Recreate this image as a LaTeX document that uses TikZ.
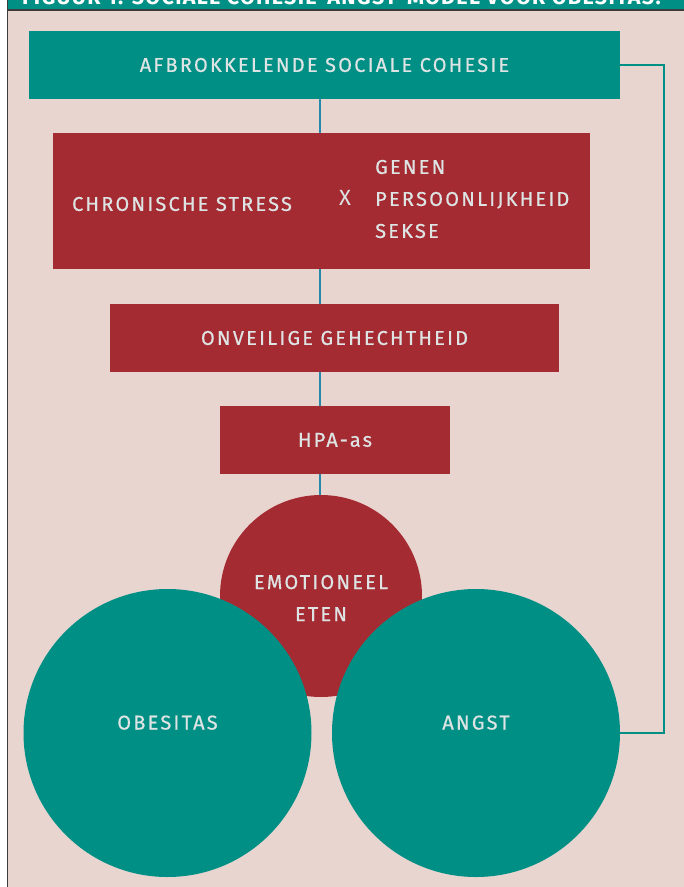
\documentclass[tikz,border=0pt]{standalone}
\usepackage{fontspec}
\setmainfont{Fira Sans}
\newfontfamily\capsfont[LetterSpace=11, FakeBold=0.6]{Fira Sans}
\newfontfamily\titlefont[LetterSpace=6]{Fira Sans}
\usetikzlibrary{positioning}
\definecolor{cohesiegreen}{RGB}{0,143,133}
\definecolor{stressred}{RGB}{164,43,50}
\definecolor{panelpink}{RGB}{233,213,208}
\definecolor{lettergrey}{RGB}{222,228,228}
\definecolor{spineblue}{RGB}{40,138,170}
\definecolor{framegrey}{RGB}{60,60,60}

\tikzset{
  greenbox/.style={fill=cohesiegreen, text=lettergrey, inner sep=0pt, rectangle},
  redbox/.style={fill=stressred, text=lettergrey, inner sep=0pt, rectangle},
  bubble/.style={circle, inner sep=0pt, text=lettergrey, align=center},
  spine/.style={draw=spineblue, line width=1.2pt},
  feedback/.style={draw=cohesiegreen, line width=2pt}
}

\begin{document}
\begin{tikzpicture}[x=1pt, y=-1pt,
  every node/.style={font=\capsfont\fontsize{20}{32}\selectfont}]
\useasboundingbox (0,0) rectangle (684,887);
%panel
\fill[white] (0,0) rectangle (684,887);
\fill[panelpink] (8,10) rectangle (684,887);
\fill[cohesiegreen] (7,0) rectangle (684,9.5);
\draw[framegrey, line width=1.5pt] (7,10) -- (684,10);
\draw[framegrey, line width=1.2pt] (7.5,0) -- (7.5,887);
\begin{scope}
  \clip (7,0) rectangle (684,9.5);
  \node[anchor=base west, text=white, inner sep=0pt,
    font=\titlefont\bfseries\fontsize{21.5}{24}\selectfont] (titel) at (22,4.5)
    {FIGUUR 1: SOCIALE COHESIE-ANGST-MODEL VOOR OBESITAS.};
\end{scope}

\coordinate (spine) at (320,0);
\coordinate (bend) at (664,65);

%connectors first, boxes on top
\node[greenbox, minimum width=591pt, minimum height=68pt] (cohesie) at (324.5,65)
  {AFBROKKELENDE SOCIALE COHESIE};
\node[redbox, minimum width=537pt, minimum height=136pt] (stress) at (321.5,201) {};
\node[redbox, minimum width=449pt, minimum height=68pt] (gehecht) at (334.5,338)
  {ONVEILIGE GEHECHTHEID};
\node[redbox, minimum width=230pt, minimum height=68pt] (hpa) at (335,440) {HPA-as};
\node[bubble, fill=stressred, minimum size=202pt] (eten) at (321,596) {};

\node[text=lettergrey, anchor=center] (chronisch) at (182,204) {CHRONISCHE STRESS};
\node[text=lettergrey, font=\fontsize{22}{26}\selectfont] (maal) at (345,198) {X};
\node[text=lettergrey, anchor=west, align=left, inner sep=0pt] (factoren) at (375,199)
  {GENEN\\PERSOONLIJKHEID\\SEKSE};
\node[text=lettergrey, align=center] (etentekst) at (321,598) {EMOTIONEEL\\ETEN};

\draw[spine] (cohesie.south -| spine) -- (stress.north -| spine);
\draw[spine] (stress.south -| spine) -- (gehecht.north -| spine);
\draw[spine] (gehecht.south -| spine) -- (hpa.north -| spine);
\draw[spine] (hpa.south -| spine) -- (eten.north -| spine);

%the two big circles
\node[bubble, fill=cohesiegreen, minimum size=288pt, text depth=21pt] (obesitas) at (167.5,733) {OBESITAS};
\node[bubble, fill=cohesiegreen, minimum size=288pt, text depth=21pt] (angst) at (476,733) {ANGST};

\draw[feedback] (cohesie.east) -- (bend) |- (angst.east);
\end{tikzpicture}
\end{document}
